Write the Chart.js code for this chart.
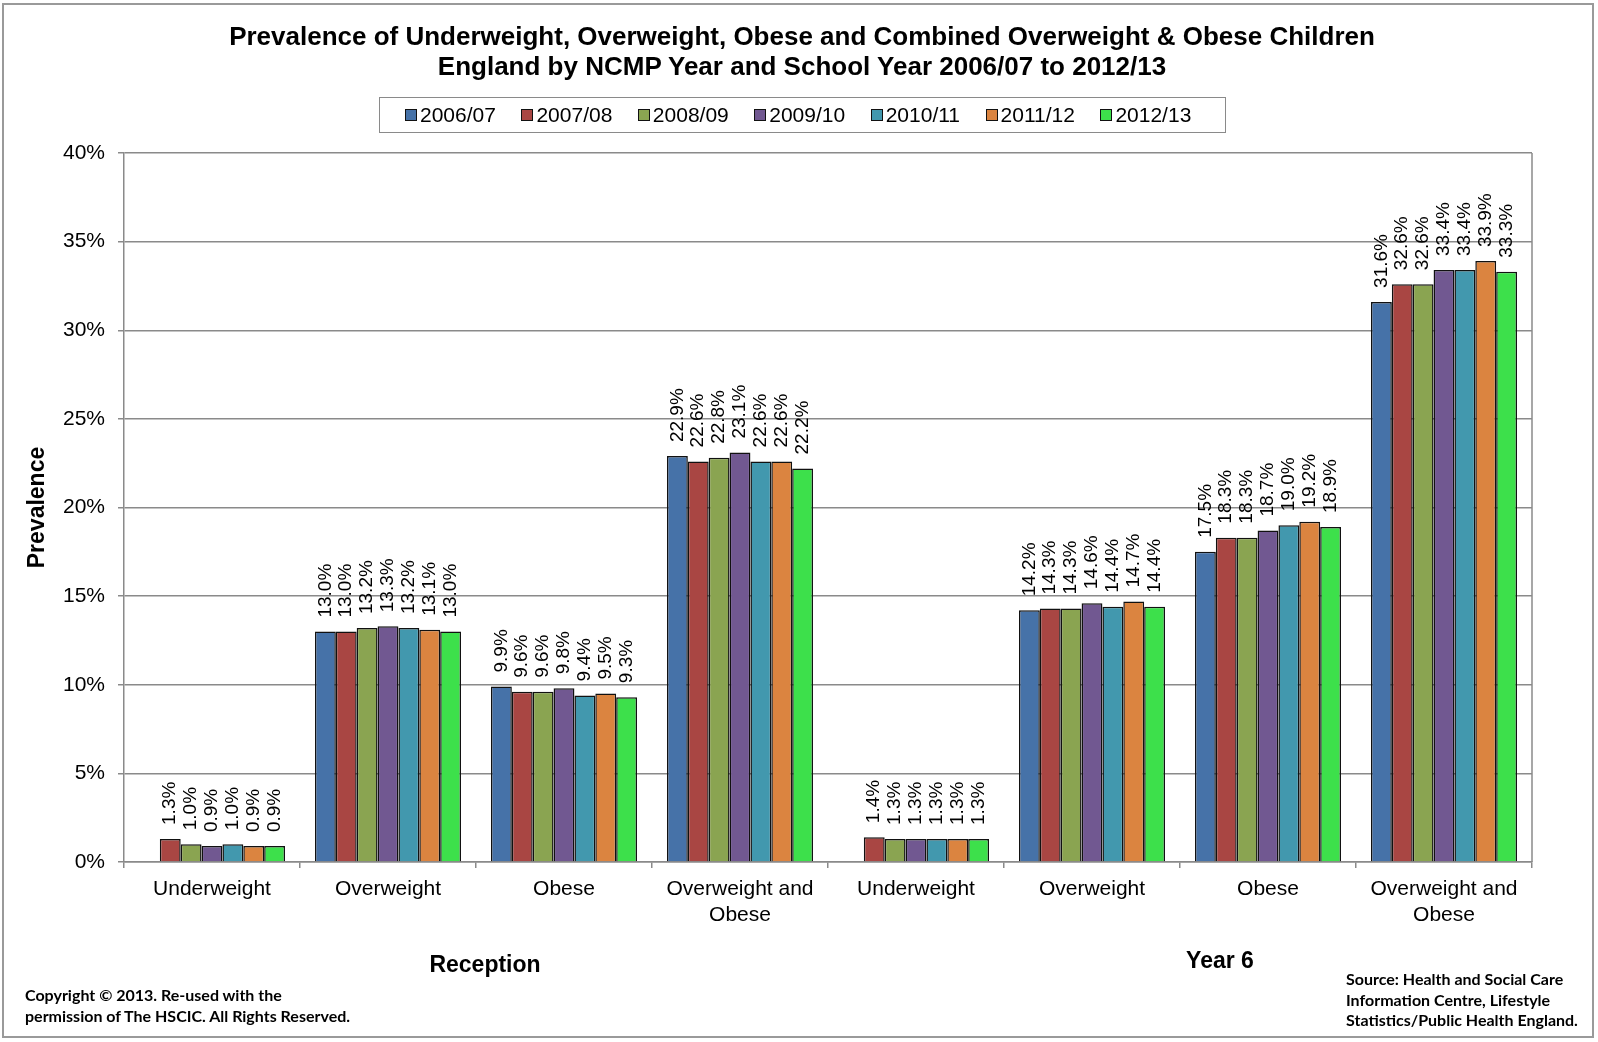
<!DOCTYPE html>
<html>
<head>
<meta charset="utf-8">
<script src="https://cdn.jsdelivr.net/npm/chart.js@4.4.0/dist/chart.umd.min.js"></script>
<style>
    body { margin: 0; background: #fff; font-family: "Liberation Sans", Arial, sans-serif; }
    #wrap { position: relative; width: 1598px; height: 1042px; overflow: hidden; }
    #frame { position: absolute; left: 2px; top: 3px; width: 1592px; height: 1035px; border: 2px solid #9a9a9a; box-sizing: border-box; }
    canvas { position: absolute; left: 0; top: 0; }
    .title { position: absolute; left: 0; width: 1604px; text-align: center; font-weight: bold; font-size: 26px; color: #000; }
    #legend { position: absolute; left: 379px; top: 97px; width: 847px; height: 36px; border: 1.5px solid #8a8a8a; box-sizing: border-box; display: flex; align-items: center; padding-left: 25px; }
    .item { display: flex; align-items: center; font-size: 21px; margin-right: 25.5px; }
    .box { width: 10px; height: 10px; border: 1.5px solid #111; margin-right: 3px; }
    .grp { position: absolute; font-weight: bold; font-size: 23px; transform: translate(-50%, -50%); }
    .note { position: absolute; font-family: Lato, "Open Sans", sans-serif; font-weight: bold; font-size: 16px; line-height: 20.5px; color: #000; }
</style>
</head>
<body>
<div id="wrap">
    <div id="frame"></div>
    <canvas id="chart" width="1598" height="1042"></canvas>
    <div class="title" style="top:21px">Prevalence of Underweight, Overweight, Obese and Combined Overweight &amp; Obese Children</div>
    <div class="title" style="top:51px">England by NCMP Year and School Year 2006/07 to 2012/13</div>
    <div id="legend"></div>
    <div class="grp" style="left:485px; top:964px">Reception</div>
    <div class="grp" style="left:1220px; top:960px">Year 6</div>
    <div class="note" style="left:25px; top:985px">Copyright © 2013. Re-used with the<br>permission of The HSCIC. All Rights Reserved.</div>
    <div class="note" style="left:1346px; top:969px">Source: Health and Social Care<br>Information Centre, Lifestyle<br>Statistics/Public Health England.</div>
</div>
<script>
const categories = ['Underweight', 'Overweight', 'Obese', ['Overweight and', 'Obese'],
                    'Underweight', 'Overweight', 'Obese', ['Overweight and', 'Obese']];
const years = ['2006/07', '2007/08', '2008/09', '2009/10', '2010/11', '2011/12', '2012/13'];
const colors = ['#4672A8', '#A94643', '#8AA451', '#715891', '#4298AE', '#DB8440', '#3DE04B'];

// values per school year: reception (4 measures) then year 6 (4 measures)
const y2006 = [null, 13.0, 9.9, 22.9, null, 14.2, 17.5, 31.6];
const y2007 = [1.3, 13.0, 9.6, 22.6, 1.4, 14.3, 18.3, 32.6];
const y2008 = [1.0, 13.2, 9.6, 22.8, 1.3, 14.3, 18.3, 32.6];
const y2009 = [0.9, 13.3, 9.8, 23.1, 1.3, 14.6, 18.7, 33.4];
const y2010 = [1.0, 13.2, 9.4, 22.6, 1.3, 14.4, 19.0, 33.4];
const y2011 = [0.9, 13.1, 9.5, 22.6, 1.3, 14.7, 19.2, 33.9];
const y2012 = [0.9, 13.0, 9.3, 22.2, 1.3, 14.4, 18.9, 33.3];
const yTicks = [0, 5, 10, 15, 20, 25, 30, 35, 40];

const series = [y2006, y2007, y2008, y2009, y2010, y2011, y2012];

// legend
const legend = document.getElementById('legend');
years.forEach(function (y, i) {
    const it = document.createElement('div');
    it.className = 'item';
    it.innerHTML = '<span class="box" style="background:' + colors[i] + '"></span>' + y;
    legend.appendChild(it);
});

const barLabels = {
    id: 'barLabels',
    afterDatasetsDraw(chart) {
        const ctx = chart.ctx;
        ctx.save();
        ctx.font = '19px "Liberation Sans", Arial, sans-serif';
        ctx.fillStyle = '#000';
        ctx.textAlign = 'left';
        ctx.textBaseline = 'middle';
        chart.data.datasets.forEach(function (ds, di) {
            chart.getDatasetMeta(di).data.forEach(function (bar, i) {
                const v = ds.data[i];
                if (v === null) return;
                ctx.save();
                ctx.translate(bar.x, bar.y - 14);
                ctx.rotate(-Math.PI / 2);
                ctx.fillText(v.toFixed(1) + '%', 0, 0);
                ctx.restore();
            });
        });
        ctx.restore();
    }
};

const areaBorder = {
    id: 'areaBorder',
    beforeDatasetsDraw(chart) {
        const a = chart.chartArea;
        const ctx = chart.ctx;
        ctx.save();
        ctx.strokeStyle = '#8a8a8a';
        ctx.lineWidth = 1.5;
        ctx.beginPath();
        ctx.moveTo(a.right, a.top);
        ctx.lineTo(a.right, a.bottom);
        ctx.stroke();
        ctx.restore();
    }
};

const ctx = document.getElementById('chart').getContext('2d');
new Chart(ctx, {
    type: 'bar',
    data: {
        labels: categories,
        datasets: series.map(function (d, i) {
            return {
                label: years[i],
                data: d,
                backgroundColor: colors[i],
                borderColor: '#111',
                borderWidth: 1.5,
                categoryPercentage: 0.83,
                barPercentage: 1.0
            };
        })
    },
    options: {
        responsive: false,
        animation: false,
        layout: { padding: { top: 153, left: 0, right: 66, bottom: 100 } },
        plugins: {
            legend: { display: false },
            title: { display: false },
            tooltip: { enabled: false }
        },
        scales: {
            x: {
                afterFit: function (s) { s.height = 80; },
                grid: { drawOnChartArea: false, tickLength: 6, color: '#8a8a8a', lineWidth: 1.5 },
                border: { color: '#8a8a8a', width: 1.5 },
                ticks: {
                    color: '#000', padding: 9, autoSkip: false, maxRotation: 0,
                    font: { family: '"Liberation Sans", Arial, sans-serif', size: 21 }
                }
            },
            y: {
                min: 0,
                max: 40,
                afterFit: function (s) { s.width = 124; },
                afterBuildTicks: function (s) { s.ticks = yTicks.map(function (v) { return { value: v }; }); },
                grid: { color: '#8a8a8a', lineWidth: 1.5, tickLength: 6 },
                border: { color: '#8a8a8a', width: 1.5 },
                ticks: {
                    color: '#000', padding: 13,
                    font: { family: '"Liberation Sans", Arial, sans-serif', size: 21 },
                    callback: function (v) { return v + '%'; }
                },
                title: {
                    display: true, text: 'Prevalence', color: '#000',
                    padding: { top: 24, bottom: 0 },
                    font: { family: '"Liberation Sans", Arial, sans-serif', size: 23, weight: 'bold' }
                }
            }
        }
    },
    plugins: [barLabels, areaBorder]
});
</script>
</body>
</html>
